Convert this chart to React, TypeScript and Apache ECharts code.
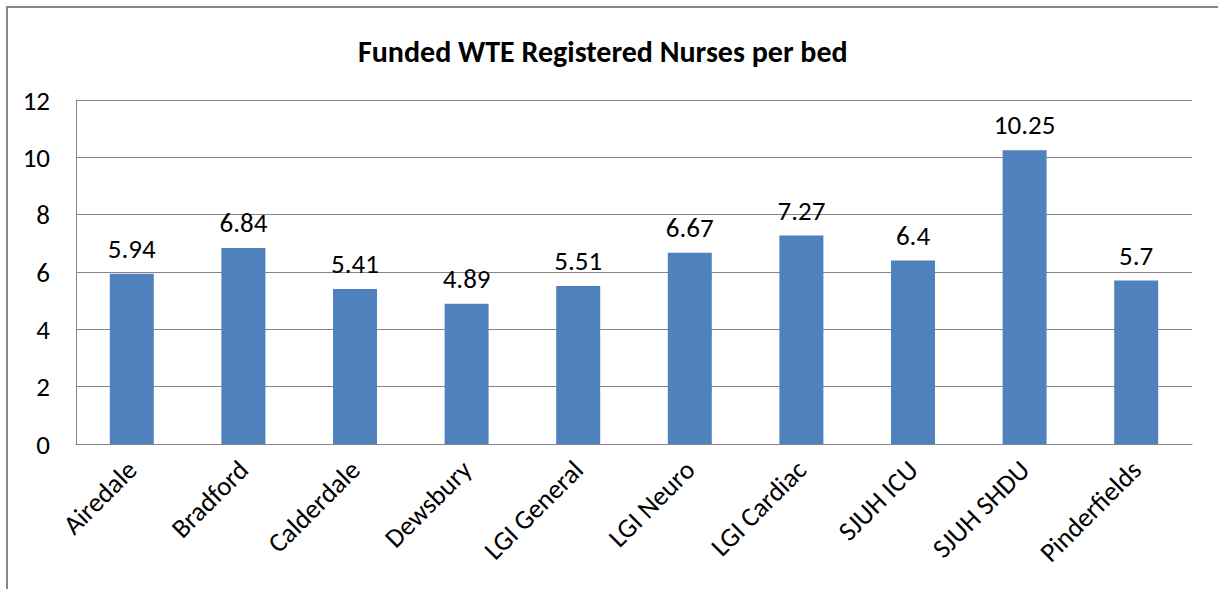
import React, { useEffect, useRef } from "react";
import * as echarts from "echarts";

const categories = ["Airedale", "Bradford", "Calderdale", "Dewsbury", "LGI General", "LGI Neuro", "LGI Cardiac", "SJUH ICU", "SJUH SHDU", "Pinderfields"];
const values = [5.94, 6.84, 5.41, 4.89, 5.51, 6.67, 7.27, 6.4, 10.25, 5.7];
const titleText = "Funded WTE Registered Nurses per bed";
const yMin = 0;
const yMax = 12;
const yInterval = 2;

const FONT = "Carlito, Lato, 'Noto Sans', sans-serif";

export default function App() {
  const ref = useRef<HTMLDivElement>(null);
  useEffect(() => {
    if (!ref.current) return;
    const chart = echarts.init(ref.current, null, { renderer: "svg" });
    chart.setOption({
      animation: false,
      backgroundColor: "#ffffff",
      title: {
        text: titleText,
        left: 353,
        top: 31,
        textStyle: { fontFamily: FONT, fontSize: 30, fontWeight: "bold", color: "#000" },
      },
      graphic: [
        {
          type: "rect",
          shape: { x: 7, y: 7, width: 1300, height: 700 },
          style: { fill: "none", stroke: "#868686", lineWidth: 2 },
          z: 100,
        },
      ],
      grid: { left: 76, right: 26, top: 100, bottom: 145, containLabel: false },
      xAxis: {
        type: "category",
        data: categories,
        axisLine: { show: true, lineStyle: { color: "#868686", width: 1 } },
        axisTick: { show: false },
        axisLabel: {
          rotate: 45,
          interval: 0,
          margin: 21,
          fontFamily: FONT,
          fontSize: 27,
          color: "#000",
        },
      },
      yAxis: {
        type: "value",
        min: yMin,
        max: yMax,
        interval: yInterval,
        axisLine: { show: true, lineStyle: { color: "#868686", width: 1 } },
        axisTick: { show: false },
        splitLine: { show: true, lineStyle: { color: "#868686", width: 1 } },
        axisLabel: { margin: 26, fontFamily: FONT, fontSize: 27, color: "#000" },
      },
      series: [
        {
          type: "bar",
          data: values,
          barWidth: 44,
          itemStyle: { color: "#4F81BD" },
          label: {
            show: true,
            position: "top",
            distance: 12,
            fontFamily: FONT,
            fontSize: 27,
            color: "#000",
          },
        },
      ],
    });
    return () => chart.dispose();
  }, []);
  return (
    <div
      ref={ref}
      style={{ position: "fixed", left: 0, top: 0, width: 1218, height: 589 }}
    />
  );
}
